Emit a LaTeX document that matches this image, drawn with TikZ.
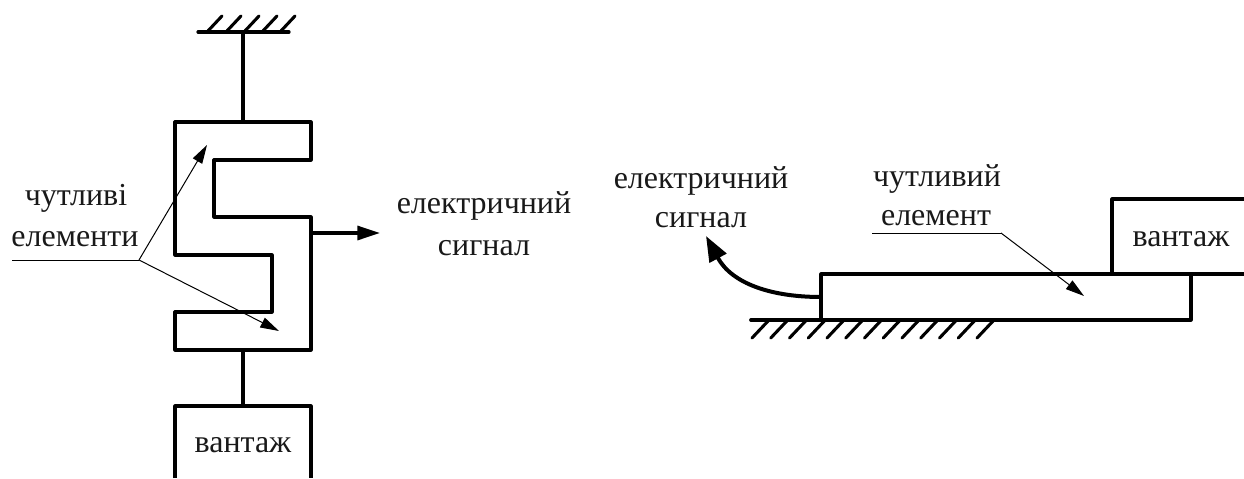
\documentclass[tikz,border=0pt]{standalone}
\usepackage{fontspec}
\setmainfont{Liberation Serif}
\usetikzlibrary{arrows.meta}
\tikzset{
  heavy/.style={line width=2.4pt,line join=round,line cap=round},
  hatch/.style={line width=2.3pt,line cap=round},
  thin leader/.style={line width=0.75pt},
  leader tip/.style={-{Triangle[length=14pt,width=8pt]}},
  lbl/.style={font=\fontsize{24pt}{28pt}\selectfont,anchor=base,inner sep=0pt,text=black!90}
}
\begin{document}
\begin{tikzpicture}[x=0.75pt,y=-0.75pt]
\useasboundingbox (0,0) rectangle (1244,478);
% left figure coordinates
\coordinate (gl) at (198,32); \coordinate (gr) at (289,32); \coordinate (gm) at (243,32);
\coordinate (st) at (243,122); \coordinate (sb) at (243,350);
\coordinate (sr) at (311,233); \coordinate (sa) at (380,233);
\coordinate (lj) at (139,260); \coordinate (ls) at (12,260);
\coordinate (t1) at (207,145); \coordinate (t2) at (279,331);
% ground, left
\draw[heavy] (gl) -- (gr);
\foreach \x in {207,226,244,262,280} \draw[hatch] (\x,32) -- ++(15,-16);
\draw[heavy] (gm) -- (st);
% S-shaped element
\draw[heavy] (175,122) -- (311,122) -- (311,160) -- (214,160) -- (214,217) -- (311,217)
  -- (311,350) -- (175,350) -- (175,312) -- (272,312) -- (272,255) -- (175,255) -- cycle;
\draw[heavy] (sb) -- (243,405);
% load, left
\draw[heavy,line cap=butt] (175,478) -- (175,406) -- (311,406) -- (311,478);
\node[lbl] (vl) at (243,452) {вантаж};
% signal arrow
\draw[line width=2.4pt,-{Triangle[length=17pt,width=10.5pt]}] (sr) -- (sa);
\node[lbl] (e1) at (484,213) {електричний};
\node[lbl] (s1) at (484,255) {сигнал};
% left labels and leaders
\node[lbl] (c1) at (76,205) {чутливі};
\node[lbl] (c2) at (75,246) {елементи};
\draw[thin leader] (ls) -- (lj);
\draw[thin leader,leader tip] (lj) -- (t1);
\draw[thin leader,leader tip] (lj) -- (t2);
% right figure
\coordinate (a) at (821,274); \coordinate (b) at (821,320);
\coordinate (c) at (1191,274); \coordinate (d) at (1191,320);
\coordinate (sg) at (821,297); \coordinate (stip) at (706,236);
\coordinate (ll) at (872,233); \coordinate (lk) at (1001,233); \coordinate (lt) at (1084,296);
\draw[heavy] (1244,274) -- (a) -- (b);
\draw[heavy] (c) -- (d) -- (b);
\draw[line width=2.8pt,line cap=round] (751,320) -- (1007,320);
\foreach \i in {0,...,12} \draw[hatch] ({752+18.75*\i},338) -- ++(17,-18);
\draw[heavy,line cap=butt] (1112,274) -- (1112,199) -- (1244,199);
\node[lbl] (v2) at (1181,246) {вантаж};
\draw[line width=3pt,-{Triangle[length=19pt,width=14pt]}] (sg) .. controls (772,297) and (732,284) .. (stip);
\node[lbl] (e2) at (701,188) {електричний};
\node[lbl] (s2) at (701,227) {сигнал};
\node[lbl] (c3) at (937,186) {чутливий};
\node[lbl] (c4) at (936,225) {елемент};
\draw[thin leader] (ll) -- (lk);
\draw[thin leader,leader tip] (lk) -- (lt);
\end{tikzpicture}
\end{document}
